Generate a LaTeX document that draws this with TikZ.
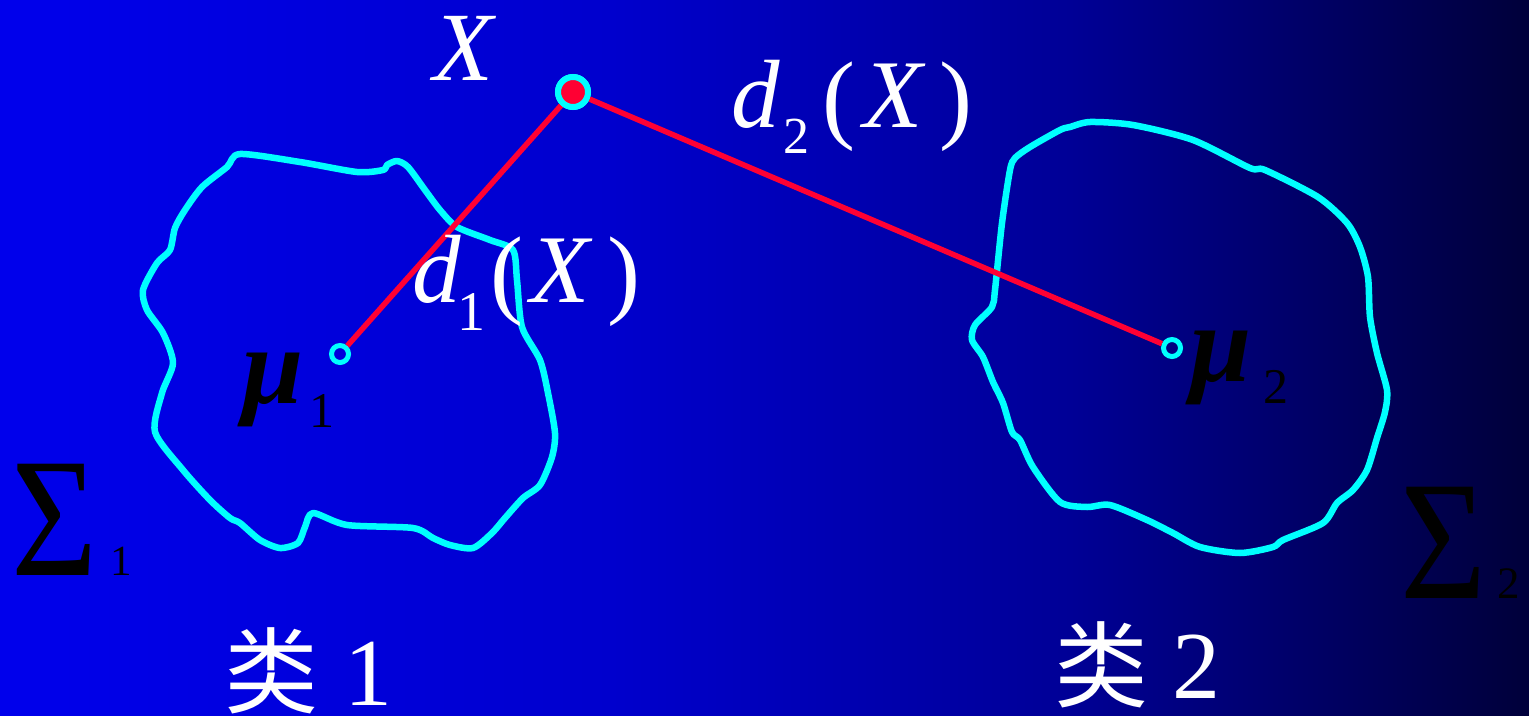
\documentclass[tikz,border=0pt]{standalone}
\usepackage{fontspec}
\setmainfont{Liberation Serif}
\newfontfamily\cjk{Noto Sans CJK SC}
\definecolor{bgA}{RGB}{0,0,236}
\definecolor{bgB}{RGB}{0,0,205}
\definecolor{bgC}{RGB}{0,0,150}
\definecolor{bgD}{RGB}{0,0,58}
\definecolor{ptred}{RGB}{255,0,51}
\definecolor{blobcyan}{RGB}{0,255,255}
\pgfdeclarehorizontalshading{bgshade}{100bp}{color(0bp)=(bgA); color(25bp)=(bgA); color(45bp)=(bgB); color(60bp)=(bgC); color(75bp)=(bgD); color(100bp)=(bgD)}
\tikzset{
  blob/.style={draw=blobcyan, line width=6.5pt, line join=round},
  dist/.style={draw=ptred, line width=5.5pt},
  mucirc/.style={circle, draw=blobcyan, line width=5pt, minimum size=17pt, inner sep=0pt},
  xdot/.style={circle, fill=ptred, draw=blobcyan, line width=6pt, minimum size=30pt, inner sep=0pt},
  lbl/.style={inner sep=0pt, outer sep=0pt, anchor=base west, text=white},
  blk/.style={inner sep=0pt, outer sep=0pt, anchor=base west, text=black},
}
\newcommand{\fs}[1]{\fontsize{#1}{#1}\selectfont}
\begin{document}
\begin{tikzpicture}[x=1pt,y=-1pt]
\useasboundingbox (0,0) rectangle (1529,715);
\shade[shading=bgshade] (0,0) rectangle (1529,715);
% cluster 1 outline
\draw[blob] plot[smooth cycle, tension=0.45] coordinates {
(240,154) (300,162) (357,172) (383,170) (387,165) (397,161) (408,167) (425,190) (440,210) (457,227) (490,240) (513,250) (517,280) (522,327) (540,360) (548,393) (555,433) (552,457) (540,485) (523,498) (505,518) (492,533) (473,548) (450,545) (433,538) (413,528) (347,525) (313,513) (305,527) (298,543) (280,548) (260,540) (240,523) (230,518) (210,500) (183,470) (155,432) (162,393) (173,363) (163,333) (147,310) (143,290) (157,263) (170,250) (175,228) (185,210) (202,187) (227,167)};
% cluster 2 outline
\draw[blob] plot[smooth cycle, tension=0.45] coordinates {
(1090,122) (1133,125) (1193,140) (1250,168) (1265,170) (1318,197) (1347,223) (1360,247) (1368,277) (1370,317) (1377,353) (1387,390) (1385,412) (1377,438) (1367,470) (1353,490) (1337,503) (1323,523) (1283,540) (1273,547) (1240,553) (1200,547) (1173,533) (1147,520) (1110,505) (1087,507) (1060,502) (1033,467) (1020,440) (1012,432) (1003,403) (993,382) (983,357) (972,340) (975,325) (992,307) (995,290) (1002,223) (1010,170) (1015,158) (1030,147) (1060,130) (1070,127)};
% points
\node[mucirc] (m1) at (340,354) {};
\node[mucirc] (m2) at (1172,348) {};
\node[xdot] (x) at (573,92) {};
\draw[dist] (x) -- (m1);
\draw[dist] (x) -- (m2);
\node[xdot] (x2) at (573,92) {};
% labels
\node[lbl] (lx) at (433,80) {\fs{98}\textit{X}};
\node[lbl] (d2d) at (731,127) {\fs{97}\textit{d}};
\node[lbl] (d2s) at (783,153) {\fs{52}2};
\node[lbl] (d2l) at (822,130) {\fs{99}(};
\node[lbl] (d2x) at (863,127) {\fs{97}\textit{X}};
\node[lbl] (d2r) at (939,130) {\fs{99})};
\node[lbl] (d1d) at (412,302) {\fs{97}\textit{d}};
\node[lbl] (d1s) at (457,330) {\fs{56}1};
\node[lbl] (d1l) at (490,305) {\fs{99}(};
\node[lbl] (d1x) at (530,302) {\fs{97}\textit{X}};
\node[lbl] (d1r) at (607,305) {\fs{99})};
\node[blk] (mu1) at (242,403) {\fs{110}\textbf{\textit{μ}}};
\node[blk] (mu1s) at (309,427) {\fs{50}1};
\node[blk] (mu2) at (1190,381) {\fs{110}\textbf{\textit{μ}}};
\node[blk] (mu2s) at (1263,403) {\fs{50}2};
\node[blk, xscale=0.87] (s1) at (12,575) {\fs{170}Σ};
\node[blk] (s1s) at (110,575) {\fs{43}1};
\node[blk, xscale=0.87] (s2) at (1400,598) {\fs{170}Σ};
\node[blk] (s2s) at (1497,598) {\fs{45}2};
\node[text=white, inner sep=0pt] (c1) at (271,671) {\cjk\fs{94}类};
\node[lbl] (c1n) at (344,705) {\fs{96}\smash{1}};
\node[text=white, inner sep=0pt] (c2) at (1101,665) {\cjk\fs{94}类};
\node[lbl] (c2n) at (1172,698) {\fs{96}\smash{2}};
\end{tikzpicture}
\end{document}
